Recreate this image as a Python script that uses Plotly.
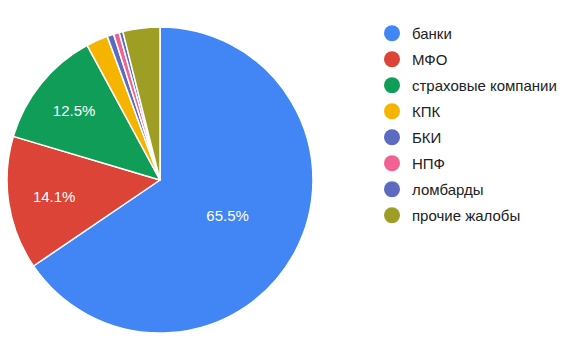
import plotly.graph_objects as go

labels = ["банки", "МФО", "страховые компании", "КПК", "БКИ", "НПФ", "ломбарды", "прочие жалобы"]
values = [65.5, 14.1, 12.5, 2.3, 0.7, 0.6, 0.4, 3.9]
colors = ["#4285F4", "#DB4437", "#0F9D58", "#F4B400", "#5C6BC0", "#F06292", "#5C6BC0", "#9E9D24"]
shown = [f"{v}%" if v > 5 else "" for v in values]

FONT = "Liberation Sans, Arial, sans-serif"

fig = go.Figure()
fig.add_trace(go.Pie(
    labels=labels, values=values, sort=False, direction="clockwise", rotation=0,
    marker=dict(colors=colors, line=dict(color="white", width=1.5)),
    text=shown, textinfo="text", textposition="inside", insidetextorientation="horizontal",
    insidetextfont=dict(color="white", size=15, family=FONT),
    showlegend=False, hoverinfo="label+percent",
    domain=dict(x=[7/570, 313/570], y=[1-334/355, 1-26/355]),
))
for i, (lab, col) in enumerate(zip(labels, colors)):
    fig.add_trace(go.Scatter(
        x=[None], y=[None], mode="markers", name=lab, legendgroup=f"g{i}",
        marker=dict(symbol="circle", size=16, color=col, line=dict(width=0)),
    ))

fig.update_layout(
    width=570, height=355, margin=dict(l=0, r=0, t=0, b=0),
    paper_bgcolor="white", plot_bgcolor="white",
    xaxis=dict(visible=False), yaxis=dict(visible=False),
    legend=dict(x=372/570, y=1-17/355, xanchor="left", yanchor="top",
                font=dict(size=15, color="#222222", family=FONT),
                traceorder="grouped", tracegroupgap=3.5, itemsizing="trace"),
)
fig.write_html("out.html")
